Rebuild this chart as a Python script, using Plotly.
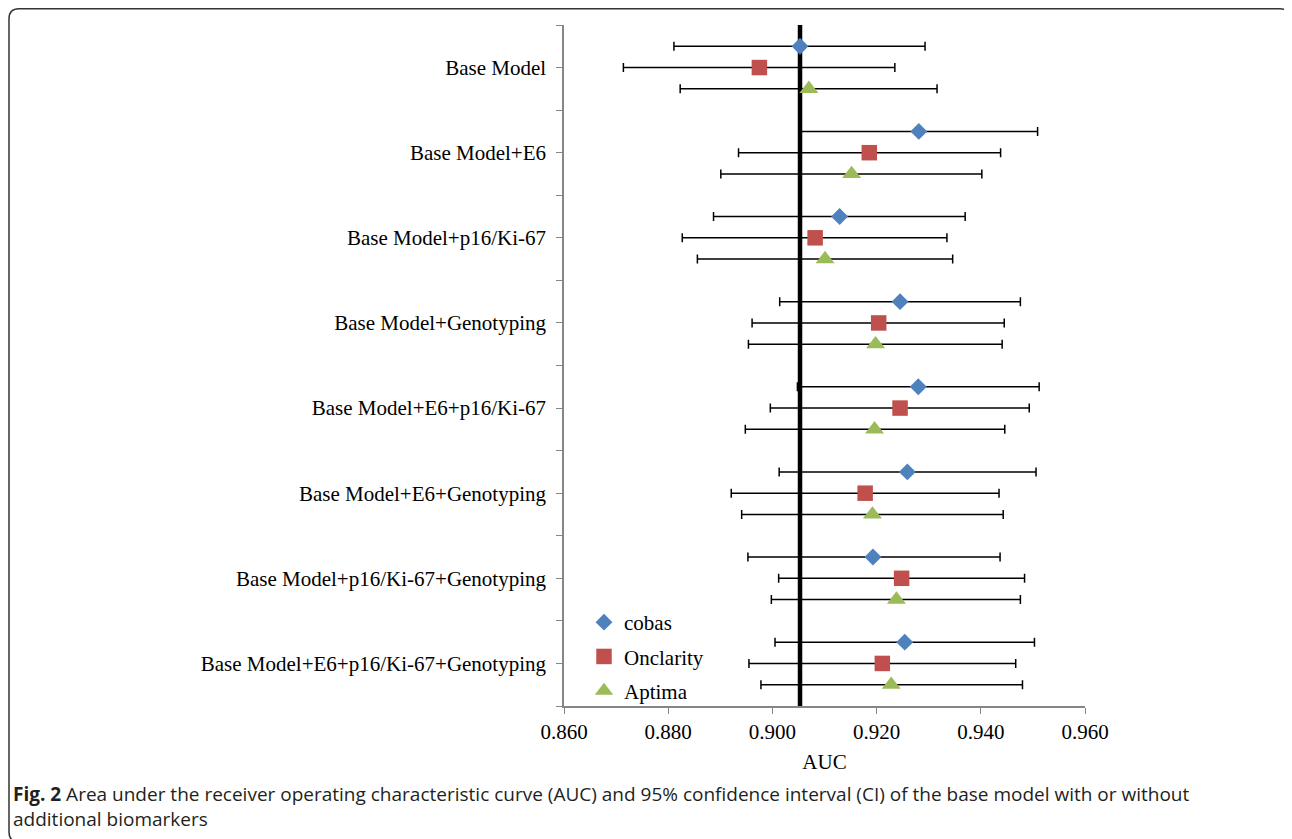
import plotly.graph_objects as go

categories = [
    "Base Model",
    "Base Model+E6",
    "Base Model+p16/Ki-67",
    "Base Model+Genotyping",
    "Base Model+E6+p16/Ki-67",
    "Base Model+E6+Genotyping",
    "Base Model+p16/Ki-67+Genotyping",
    "Base Model+E6+p16/Ki-67+Genotyping",
]

cobas_auc = [0.9053, 0.9281, 0.9129, 0.9245, 0.9280, 0.9259, 0.9193, 0.9254]
cobas_low = [0.8811, 0.9055, 0.8887, 0.9014, 0.9048, 0.9013, 0.8953, 0.9005]
cobas_high = [0.9293, 0.9509, 0.9370, 0.9476, 0.9512, 0.9506, 0.9437, 0.9503]

onclarity_auc = [0.8975, 0.9186, 0.9082, 0.9204, 0.9245, 0.9178, 0.9248, 0.9211]
onclarity_low = [0.8714, 0.8935, 0.8827, 0.8961, 0.8996, 0.8921, 0.9012, 0.8955]
onclarity_high = [0.9235, 0.9438, 0.9335, 0.9445, 0.9493, 0.9435, 0.9484, 0.9467]

aptima_auc = [0.9070, 0.9152, 0.9101, 0.9198, 0.9196, 0.9192, 0.9238, 0.9228]
aptima_low = [0.8823, 0.8901, 0.8856, 0.8954, 0.8948, 0.8941, 0.8998, 0.8978]
aptima_high = [0.9316, 0.9402, 0.9346, 0.9441, 0.9446, 0.9443, 0.9476, 0.9480]

x_ticks = [0.86, 0.88, 0.90, 0.92, 0.94, 0.96]
reference_auc = cobas_auc[0]

# layout geometry: page pixels, the page body adds an 8 px margin
OFF = 8
W, H = 1292 - OFF, 839 - OFF
PLOT_L, PLOT_R, PLOT_T, PLOT_B = 564, 1085, 25, 706   # page coordinates
L = PLOT_L - OFF
R = W - (PLOT_R - OFF)
T = PLOT_T - OFF
B = H - (PLOT_B - OFF)
PW = PLOT_R - PLOT_L
PH = PLOT_B - PLOT_T


def px_x(px):
    return (px - PLOT_L) / PW


def px_y(py):
    return (PLOT_B - py) / PH


SERIF = "Liberation Serif, Times New Roman, serif"
SANS = "Open Sans, sans-serif"
n = len(categories)
series = [
    ("cobas", cobas_auc, cobas_low, cobas_high, "#4F81BD", "diamond", 13, -0.25),
    ("Onclarity", onclarity_auc, onclarity_low, onclarity_high, "#C0504D", "square", 15.5, 0.0),
    ("Aptima", aptima_auc, aptima_low, aptima_high, "#9BBB59", "triangle-up", 16.5, 0.25),
]

fig = go.Figure()
for name, auc, lo, hi, color, sym, size, off in series:
    fig.add_trace(go.Scatter(
        x=auc,
        y=[i + off for i in range(n)],
        mode="markers",
        name=name,
        legendgroup=name,
        marker=dict(symbol=sym, size=size, color=color, line=dict(width=0)),
        error_x=dict(
            type="data", symmetric=False,
            array=[h - a for h, a in zip(hi, auc)],
            arrayminus=[a - l for a, l in zip(auc, lo)],
            color="black", thickness=1.5, width=4.5,
        ),
        cliponaxis=False,
    ))

shapes = [
    dict(type="line", xref="x", yref="paper", x0=reference_auc, x1=reference_auc,
         y0=0, y1=1, line=dict(color="black", width=4.5), layer="below"),
]

# rounded frame around the figure (page coordinates); bottom edge lies just below the view
x0, y0, x1, y1, r = 9, 8.8, 1290, 842, 10
path = (
    f"M {px_x(x0)},{px_y(y0 + r)} Q {px_x(x0)},{px_y(y0)} {px_x(x0 + r)},{px_y(y0)} "
    f"L {px_x(x1 - r)},{px_y(y0)} Q {px_x(x1)},{px_y(y0)} {px_x(x1)},{px_y(y0 + r)} "
    f"L {px_x(x1)},{px_y(y1 - r)} Q {px_x(x1)},{px_y(y1)} {px_x(x1 - r)},{px_y(y1)} "
    f"L {px_x(x0 + r)},{px_y(y1)} Q {px_x(x0)},{px_y(y1)} {px_x(x0)},{px_y(y1 - r)} Z"
)
shapes.append(dict(type="path", xref="paper", yref="paper", path=path,
                   line=dict(color="#333333", width=1.5), fillcolor="rgba(0,0,0,0)"))

annotations = [
    dict(xref="paper", yref="paper", x=px_x(11), y=px_y(794), xanchor="left", yanchor="middle",
         showarrow=False, align="left",
         text="<b>Fig. 2</b> Area under the receiver operating characteristic curve (AUC) and 95% "
              "confidence interval (CI) of the base model with or without",
         font=dict(family=SANS, size=19, color="#231f20")),
    dict(xref="paper", yref="paper", x=px_x(11), y=px_y(819), xanchor="left", yanchor="middle",
         showarrow=False, align="left", text="additional biomarkers",
         font=dict(family=SANS, size=19, color="#231f20")),
]

fig.update_layout(
    width=W, height=H,
    margin=dict(l=L, r=R, t=T, b=B, autoexpand=False),
    paper_bgcolor="white", plot_bgcolor="white",
    font=dict(family=SERIF, size=21, color="black"),
    showlegend=True,
    legend=dict(
        x=px_x(584), y=px_y(602), xanchor="left", yanchor="top",
        bgcolor="rgba(0,0,0,0)", font=dict(family=SERIF, size=21, color="black"),
        traceorder="grouped", tracegroupgap=4,
    ),
    shapes=shapes,
    annotations=annotations,
    xaxis=dict(
        range=[0.86, 0.96], tickvals=x_ticks, ticktext=[f"{v:.3f}" for v in x_ticks],
        showgrid=False, zeroline=False, showline=True, linecolor="#868686", linewidth=1.5,
        ticks="outside", ticklen=6, tickcolor="#868686", tickwidth=1.3,
        tickfont=dict(family=SERIF, size=21, color="black"),
        title=dict(text="AUC", font=dict(family=SERIF, size=21, color="black"), standoff=11),
    ),
    yaxis=dict(
        range=[n - 0.5, -0.5], tickvals=list(range(n)), ticktext=categories,
        showgrid=False, zeroline=False, showline=True, linecolor="#868686", linewidth=1.5,
        ticks="outside", ticklen=6, tickcolor="#868686", tickwidth=1.3,
        ticklabelstandoff=6,
        tickfont=dict(family=SERIF, size=21, color="black"),
        minor=dict(tickvals=[k - 0.5 for k in range(n + 1)], ticks="outside", ticklen=6,
                   tickcolor="#868686", tickwidth=1.3, showgrid=False),
    ),
)

fig.write_html("out.html")
